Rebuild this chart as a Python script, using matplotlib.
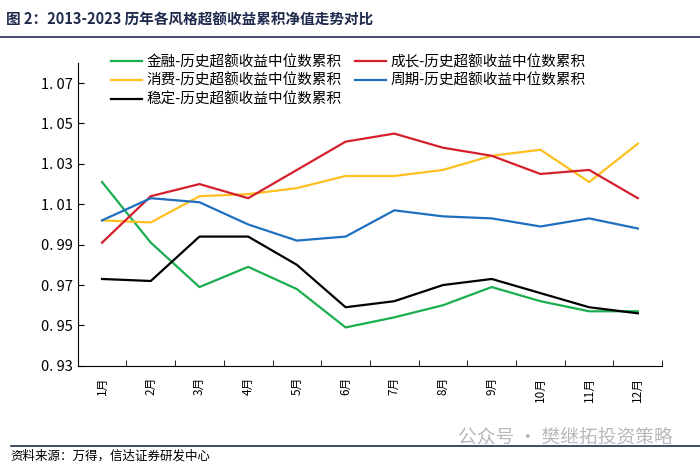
import matplotlib.pyplot as plt
from matplotlib.lines import Line2D
import numpy as np

plt.rcParams['font.family'] = ['Noto Sans CJK SC', 'DejaVu Sans']

months = ['1月', '2月', '3月', '4月', '5月', '6月', '7月', '8月', '9月', '10月', '11月', '12月']
finance = [1.021, 0.991, 0.969, 0.979, 0.968, 0.949, 0.954, 0.960, 0.969, 0.962, 0.957, 0.957]
growth = [0.991, 1.014, 1.020, 1.013, 1.027, 1.041, 1.045, 1.038, 1.034, 1.025, 1.027, 1.013]
consumer = [1.002, 1.001, 1.014, 1.015, 1.018, 1.024, 1.024, 1.027, 1.034, 1.037, 1.021, 1.040]
cyclical = [1.002, 1.013, 1.011, 1.000, 0.992, 0.994, 1.007, 1.004, 1.003, 0.999, 1.003, 0.998]
stable = [0.973, 0.972, 0.994, 0.994, 0.980, 0.959, 0.962, 0.970, 0.973, 0.966, 0.959, 0.956]
yticks = [0.93, 0.95, 0.97, 0.99, 1.01, 1.03, 1.05, 1.07]

suffix = '-历史超额收益中位数累积'
# order: column-major so the legend reads row by row like the original
series = [
    ('金融' + suffix, finance, '#1aae4f'),
    ('消费' + suffix, consumer, '#ffbf1f'),
    ('稳定' + suffix, stable, '#000000'),
    ('成长' + suffix, growth, '#d61f2c'),
    ('周期' + suffix, cyclical, '#1f6fc1'),
]

fig = plt.figure(figsize=(7, 4.66), dpi=100)
ax = fig.add_axes([0.111, 0.215, 0.835, 0.65])

x = np.arange(len(months))
handles = []
for name, vals, col in series:
    ln, = ax.plot(x, vals, color=col, lw=1.6, label=name)
    handles.append(ln)

ax.set_xlim(-0.5, len(months) - 0.5)
ax.set_ylim(0.93, 1.08)
ax.set_yticks(yticks)
ax.set_yticklabels([f'{v:.2f}'.replace('.', '. ') for v in yticks], fontsize=10.5)
ax.set_xticks(x)
ax.set_xticklabels(months, rotation=90, fontsize=8.5)
ax.set_xticks(np.arange(len(months) + 1) - 0.5, minor=True)
ax.tick_params(axis='x', which='major', length=0, pad=8)
ax.tick_params(axis='x', which='minor', direction='in', length=4)
ax.tick_params(axis='y', direction='in', length=4)
for s in ['top', 'right']:
    ax.spines[s].set_visible(False)

fig.legend(handles=handles, loc='upper left', bbox_to_anchor=(0.14, 0.91), ncol=2,
           frameon=False, fontsize=10.5, handlelength=2.1, columnspacing=0.9,
           labelspacing=0.3, handletextpad=0.35)

fig.text(0.008, 0.958, '图 2：2013-2023 历年各风格超额收益累积净值走势对比',
         fontsize=10.5, fontweight='bold', color='#1f2a4d', va='center')
fig.add_artist(Line2D([0.0, 1.0], [0.92, 0.92], color='#1f2a4d', lw=1.2))
fig.add_artist(Line2D([0.015, 1.0], [0.043, 0.043], color='#1f2a4d', lw=1.2))
fig.text(0.015, 0.022, '资料来源：万得，信达证券研发中心', fontsize=9, style='italic', va='center')
fig.text(0.655, 0.062, '公众号 · 樊继拓投资策略', fontsize=13.5, color='#b8b8b8', va='center')

fig.savefig('out.png', dpi=100)
